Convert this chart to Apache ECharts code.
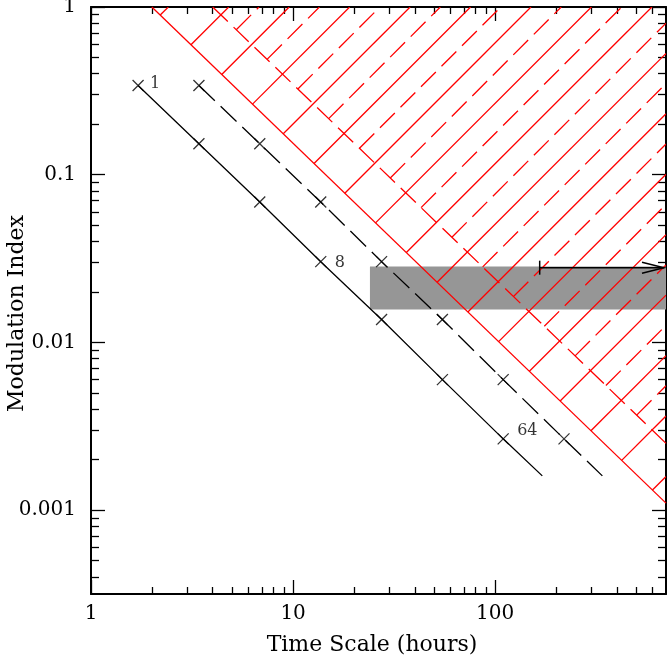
<!DOCTYPE html>
<html>
<head>
<meta charset="utf-8">
<script src="https://cdn.jsdelivr.net/npm/echarts@6/dist/echarts.min.js"></script>
<style>
  html, body { margin: 0; padding: 0; background: #fff; }
  #chart { width: 667px; height: 664px; }
</style>
</head>
<body>
<div id="chart"></div>
<script>
// axis ranges and ticks
var xMin = 1, xMax = 700;
var yMin = 0.000316, yMax = 1;
var xMajor = [1, 10, 100];
var xMinor = [2, 3, 4, 5, 6, 7, 8, 9, 20, 30, 40, 50, 60, 70, 80, 90, 200, 300, 400, 500, 600];
var yMajor = [0.001, 0.01, 0.1, 1];
var yMinor = [0.0004, 0.0005, 0.0006, 0.0007, 0.0008, 0.0009,
  0.002, 0.003, 0.004, 0.005, 0.006, 0.007, 0.008, 0.009,
  0.02, 0.03, 0.04, 0.05, 0.06, 0.07, 0.08, 0.09,
  0.2, 0.3, 0.4, 0.5, 0.6, 0.7, 0.8, 0.9];

// sampled points (solid track labelled 1, 8, 64)
var solidX = [1.71, 3.42, 6.84, 13.7, 27.4, 54.8, 109.5];
var solidY = [0.34, 0.153, 0.0688, 0.0303, 0.0137, 0.0060, 0.00266];
var solidEnd = [171, 0.0016];
var dashedX = [3.42, 6.84, 13.7, 27.4, 54.8, 109.5, 219];
var dashedY = [0.34, 0.153, 0.0688, 0.0303, 0.0137, 0.0060, 0.00266];
var dashedEnd = [339, 0.0016];
var pointLabels = ['1', '', '', '8', '', '', '64'];

// excluded regions (red hatched), boundary endpoints [x0, y0, x1, y1]
var redSolidEdge = [2, 1, 700, 0.0011];
var redDashedEdge = [4, 1, 700, 0.0025];

// grey band [x0, y0, x1, y1] and arrow [x0, y, x1]
var band = [24, 0.0157, 700, 0.0284];
var arrow = [166, 0.0279, 700];

var FONT = 'DejaVu Serif';
var RED = '#ff0000';
var hatchStep = 60.45;   // px between hatch lines (measured along x at fixed y)
var hatchPhase = 175.3;  // px, x+y of first solid hatch line

function fmt(v) { return String(+(+v).toPrecision(3)); }

function xAxisDef(pos, ticks, len, main) {
  return {
    type: 'log', logBase: 10, min: xMin, max: xMax, position: pos,
    axisLine: { show: main, onZero: false, lineStyle: { color: '#000', width: 2 } },
    axisTick: { show: true, inside: true, length: len, customValues: ticks,
      lineStyle: { color: '#000', width: 1.3 } },
    axisLabel: pos === 'bottom' && main ? {
      show: true, customValues: xMajor, formatter: fmt, margin: 10,
      fontFamily: FONT, fontSize: 20, color: '#000'
    } : { show: false },
    splitLine: { show: false },
    name: pos === 'bottom' && main ? 'Time Scale (hours)' : '',
    nameLocation: 'middle', nameGap: 40, nameMoveOverlap: false,
    nameTextStyle: { fontFamily: FONT, fontSize: 22, color: '#000', padding: [0, 13, 0, 0] }
  };
}

function yAxisDef(pos, ticks, len, main) {
  return {
    type: 'log', logBase: 10, min: yMin, max: yMax, position: pos,
    axisLine: { show: main, onZero: false, lineStyle: { color: '#000', width: 2 } },
    axisTick: { show: true, inside: true, length: len, customValues: ticks,
      lineStyle: { color: '#000', width: 1.3 } },
    axisLabel: pos === 'left' && main ? {
      show: true, customValues: yMajor, formatter: fmt, margin: 15,
      fontFamily: FONT, fontSize: 20, color: '#000'
    } : { show: false },
    splitLine: { show: false },
    name: pos === 'left' && main ? 'Modulation Index' : '',
    nameLocation: 'middle', nameGap: 63, nameMoveOverlap: false,
    nameTextStyle: { fontFamily: FONT, fontSize: 22, color: '#000', padding: [0, 26, 0, 0] }
  };
}

function hatchRenderer(dashed) {
  return function (params, api) {
    var cs = params.coordSys;
    var a = api.coord([api.value(0), api.value(1)]);
    var b = api.coord([api.value(2), api.value(3)]);
    var top = cs.y, right = cs.x + cs.width;
    var s0 = a[0] + a[1], s1 = b[0] + b[1];
    var first = hatchPhase + (dashed ? hatchStep / 2 : 0);
    var c = first + Math.ceil((s0 - first) / hatchStep) * hatchStep;
    var kids = [];
    for (; c <= s1; c += hatchStep) {
      var t = (c - s0) / (s1 - s0);
      var sx = a[0] + t * (b[0] - a[0]), sy = a[1] + t * (b[1] - a[1]);
      var len = Math.min(sy - top, right - sx);
      if (len <= 0) continue;
      kids.push({
        type: 'line',
        shape: { x1: sx, y1: sy, x2: sx + len, y2: sy - len },
        style: { stroke: RED, lineWidth: 1.3, lineDash: dashed ? [21, 8] : null }
      });
    }
    return { type: 'group', children: kids };
  };
}

function pairs(xs, ys) {
  return xs.map(function (x, i) { return [x, ys[i]]; });
}

var labelOffsets = { 0: [0, -2], 3: [2, 1], 6: [2, -8] };

var chart = echarts.init(document.getElementById('chart'), null, { renderer: 'canvas' });

chart.setOption({
  animation: false,
  backgroundColor: '#fff',
  grid: { left: 91, right: 1, top: 7, bottom: 70, containLabel: false, outerBoundsMode: 'none' },
  xAxis: [
    xAxisDef('bottom', xMajor, 14, true),
    xAxisDef('bottom', xMinor, 7, false),
    xAxisDef('top', xMajor, 14, true),
    xAxisDef('top', xMinor, 7, false)
  ],
  yAxis: [
    yAxisDef('left', yMajor, 14, true),
    yAxisDef('left', yMinor, 8, false),
    yAxisDef('right', yMajor, 14, true),
    yAxisDef('right', yMinor, 8, false)
  ],
  series: [
    {
      type: 'custom', z: 1, silent: true,
      data: [band],
      encode: { x: [0, 2], y: [1, 3] },
      renderItem: function (params, api) {
        var p0 = api.coord([api.value(0), api.value(1)]);
        var p1 = api.coord([api.value(2), api.value(3)]);
        return {
          type: 'rect',
          shape: { x: p0[0], y: p1[1], width: p1[0] - p0[0], height: p0[1] - p1[1] },
          style: { fill: '#969696' }
        };
      }
    },
    {
      type: 'custom', z: 2, silent: true, clip: true,
      data: [redSolidEdge],
      encode: { x: [0, 2], y: [1, 3] },
      renderItem: hatchRenderer(false)
    },
    {
      type: 'custom', z: 2, silent: true, clip: true,
      data: [redDashedEdge],
      encode: { x: [0, 2], y: [1, 3] },
      renderItem: hatchRenderer(true)
    },
    {
      type: 'line', z: 3, silent: true, showSymbol: false,
      data: [[redSolidEdge[0], redSolidEdge[1]], [redSolidEdge[2], redSolidEdge[3]]],
      lineStyle: { color: RED, width: 1.3 }
    },
    {
      type: 'line', z: 3, silent: true, showSymbol: false,
      data: [[redDashedEdge[0], redDashedEdge[1]], [redDashedEdge[2], redDashedEdge[3]]],
      lineStyle: { color: RED, width: 1.3, type: [21, 8] }
    },
    {
      type: 'line', z: 4, silent: true, showSymbol: false,
      data: pairs(solidX, solidY).concat([solidEnd]),
      lineStyle: { color: '#000', width: 1.3 }
    },
    {
      type: 'line', z: 4, silent: true, showSymbol: false,
      data: pairs(dashedX, dashedY).concat([dashedEnd]),
      lineStyle: { color: '#000', width: 1.3, type: [22, 8] }
    },
    {
      type: 'scatter', z: 5, silent: true,
      symbol: 'path://M0,0L10,10M0,10L10,0', symbolSize: 11,
      itemStyle: { color: 'none', borderColor: '#000', borderWidth: 1.3 },
      data: pairs(solidX, solidY).map(function (p, i) {
        var item = { value: p };
        if (pointLabels[i]) {
          item.label = {
            show: true, position: 'right', distance: 4, offset: labelOffsets[i],
            formatter: pointLabels[i], fontFamily: FONT, fontSize: 16, color: '#000'
          };
        }
        return item;
      })
    },
    {
      type: 'scatter', z: 5, silent: true,
      symbol: 'path://M0,0L10,10M0,10L10,0', symbolSize: 11,
      itemStyle: { color: 'none', borderColor: '#000', borderWidth: 1.3 },
      data: pairs(dashedX, dashedY)
    },
    {
      type: 'custom', z: 6, silent: true,
      data: [arrow],
      encode: { x: [0, 2], y: 1 },
      renderItem: function (params, api) {
        var p0 = api.coord([api.value(0), api.value(1)]);
        var p1 = api.coord([api.value(2), api.value(1)]);
        var tip = p1[0] - 2, y = p0[1];
        var st = { stroke: '#000', lineWidth: 1.5, fill: null };
        return {
          type: 'group',
          children: [
            { type: 'line', shape: { x1: p0[0], y1: y, x2: tip, y2: y }, style: st },
            { type: 'line', shape: { x1: p0[0], y1: y - 7, x2: p0[0], y2: y + 7 }, style: st },
            { type: 'polyline', shape: { points: [[tip - 22, y - 5.5], [tip, y], [tip - 22, y + 5.5]] }, style: st }
          ]
        };
      }
    }
  ]
});

window.addEventListener('resize', function () { chart.resize(); });
</script>
</body>
</html>
